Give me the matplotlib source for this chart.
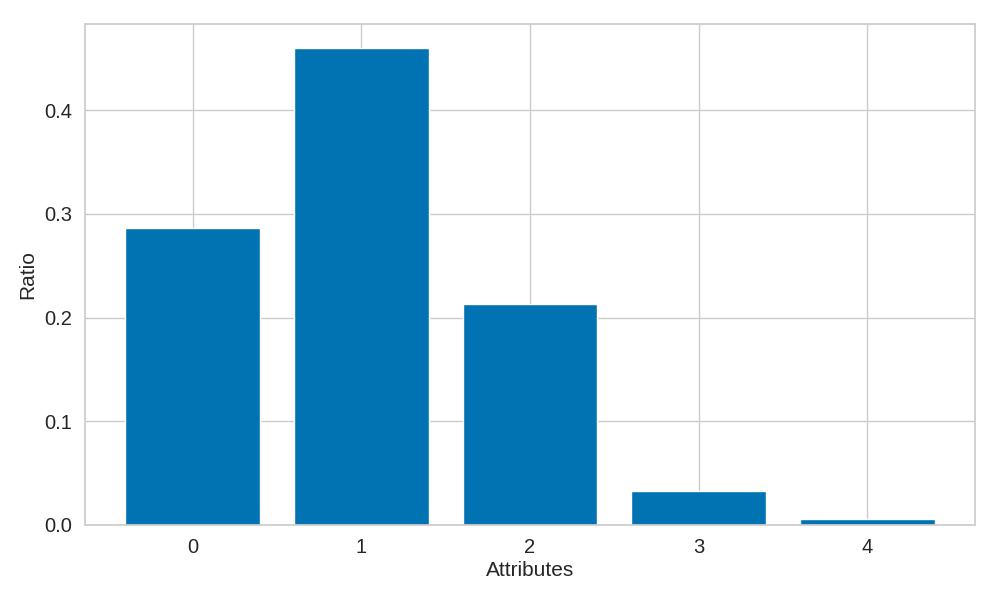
import matplotlib
matplotlib.use("Agg")
import matplotlib.pyplot as plt
import seaborn as sns

# bar data
attributes = [0, 1, 2, 3, 4]
ratios = [0.286, 0.460, 0.2135, 0.0325, 0.0062]

sns.set_theme(style="whitegrid", palette="colorblind")
plt.rcParams['font.family'] = ['Arial', 'Liberation Sans', 'DejaVu Sans']

fig, ax = plt.subplots(figsize=(10, 6), dpi=100)
ax.bar(attributes, ratios, color=sns.color_palette("colorblind")[0])
ax.set_xlabel("Attributes", fontsize=15, labelpad=3)
ax.set_ylabel("Ratio", fontsize=15, labelpad=5)
ax.tick_params(labelsize=14.5)
ax.set_xticks(attributes)
fig.subplots_adjust(left=0.085, right=0.975, top=0.96, bottom=0.125)
fig.savefig("out.png")
